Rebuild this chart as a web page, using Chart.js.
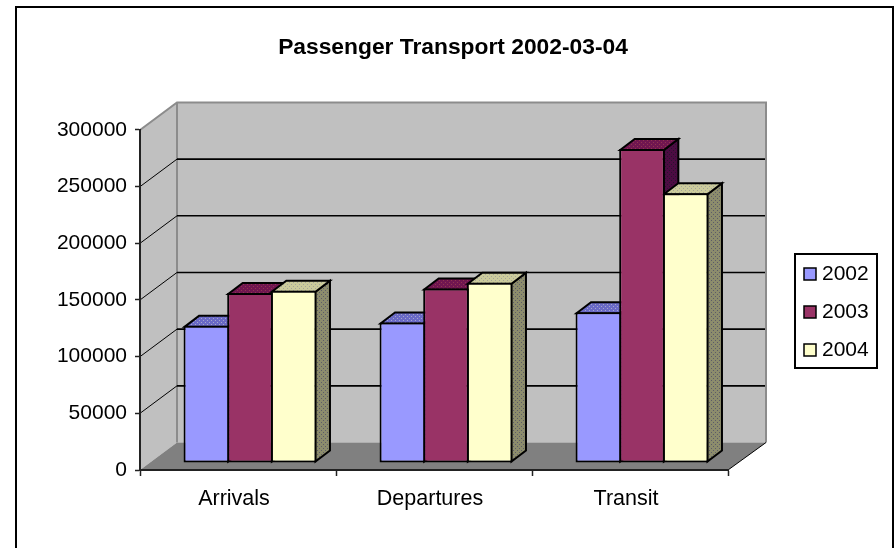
<!DOCTYPE html>
<html>
<head>
<meta charset="utf-8">
<title>Passenger Transport 2002-03-04</title>
<script src="https://cdn.jsdelivr.net/npm/chart.js@4/dist/chart.umd.min.js"></script>
<style>
  html, body { margin: 0; padding: 0; background: #fff; overflow: hidden; }
  canvas { display: block; }
</style>
</head>
<body>
<canvas id="chart" width="895" height="548"></canvas>
<script>
const chartTitle = "Passenger Transport 2002-03-04";
const categories = ["Arrivals", "Departures", "Transit"];
const seriesNames = ["2002", "2003", "2004"];
const values2002 = [121000, 124000, 133000];
const values2003 = [150000, 154000, 277000];
const values2004 = [152000, 159000, 238000];
const yTicks = [0, 50000, 100000, 150000, 200000, 250000, 300000];

const FONT = "'Liberation Sans', Arial, sans-serif";
// 3d look: wall depth, gap in front of the bars, depth of the bars themselves
const WALL_DX = 38, WALL_DY = 27.5;
const BAR_SHIFT_X = 12, BAR_SHIFT_Y = -7;
const BAR_DX = 14.5, BAR_DY = 11;

function dither(base, dot) {
  const tile = document.createElement("canvas");
  tile.width = tile.height = 4;
  const c = tile.getContext("2d");
  c.fillStyle = base;
  c.fillRect(0, 0, 4, 4);
  c.fillStyle = dot;
  c.fillRect(1, 1, 1, 1);
  c.fillRect(3, 3, 1, 1);
  return c.createPattern(tile, "repeat");
}

function poly(ctx, pts, fill, stroke, lw) {
  ctx.beginPath();
  pts.forEach((p, i) => (i ? ctx.lineTo(p[0], p[1]) : ctx.moveTo(p[0], p[1])));
  ctx.closePath();
  if (fill) { ctx.fillStyle = fill; ctx.fill(); }
  if (stroke) { ctx.strokeStyle = stroke; ctx.lineWidth = lw; ctx.lineJoin = "miter"; ctx.stroke(); }
}

const faces = [
  { top: dither("#6a6ac6", "#a6a6cc"), side: dither("#50508c", "#34345c") },
  { top: dither("#701650", "#93364e"), side: dither("#4c0c42", "#28142e") },
  { top: dither("#cbcb9c", "#a4a498"), side: dither("#8c8c6c", "#5c5c68") },
];

const box3d = {
  id: "box3d",
  afterLayout(chart) {
    // title is centred on the frame, not on the plot
    chart.titleBlock.left = 11;
    chart.titleBlock.right = 895;
  },
  beforeDraw(chart) {
    const { ctx, chartArea: a, scales: { y } } = chart;
    const L = a.left, R = a.right, T = y.getPixelForValue(y.max), B = y.getPixelForValue(0);
    const bl = L + WALL_DX - 1, br = R + WALL_DX;
    const tB = T - WALL_DY, bB = B - WALL_DY;
    ctx.save();
    ctx.fillStyle = "#fff";
    ctx.fillRect(0, 0, chart.width, chart.height);
    ctx.strokeStyle = "#000";
    ctx.lineWidth = 2;
    ctx.strokeRect(16, 7, 877, 620);
    // left wall, back wall, floor
    poly(ctx, [[L, T], [bl, tB], [bl, bB], [L, B]], "#c0c0c0");
    ctx.fillStyle = "#c0c0c0";
    ctx.fillRect(bl, tB, br - bl, bB - tB);
    poly(ctx, [[L, B], [R, B], [br, bB], [bl, bB]], "#808080");
    // gray wall edges
    ctx.strokeStyle = "#8c8c8c";
    ctx.lineWidth = 2;
    ctx.beginPath();
    ctx.moveTo(L, T); ctx.lineTo(bl, tB); ctx.lineTo(br, tB); ctx.lineTo(br, bB);
    ctx.moveTo(bl, tB); ctx.lineTo(bl, bB);
    ctx.stroke();
    // gridlines carried across both walls
    ctx.strokeStyle = "#000";
    yTicks.forEach((v) => {
      if (v === 0 || v === y.max) return;
      const py = y.getPixelForValue(v);
      ctx.lineWidth = 1;
      ctx.beginPath(); ctx.moveTo(L, py); ctx.lineTo(bl, py - WALL_DY); ctx.stroke();
      ctx.lineWidth = 1.6;
      ctx.beginPath(); ctx.moveTo(bl, py - WALL_DY); ctx.lineTo(br - 1, py - WALL_DY); ctx.stroke();
    });
    // front edge of the floor on the right
    ctx.lineWidth = 1;
    ctx.beginPath(); ctx.moveTo(R, B); ctx.lineTo(br, bB); ctx.stroke();
    ctx.restore();
  },
  beforeDatasetsDraw(chart) {
    const { ctx } = chart;
    ctx.save();
    ctx.translate(BAR_SHIFT_X, BAR_SHIFT_Y);
    // tops and sides first, left to right, the library paints the fronts over them
    chart.data.datasets.forEach((ds, i) => {
      chart.getDatasetMeta(i).data.forEach((bar) => {
        const x0 = bar.x - bar.width / 2 + 1, x1 = bar.x + bar.width / 2 - 1;
        const top = bar.y + 1, base = bar.base - 1;
        poly(ctx, [[x1, top], [x1 + BAR_DX, top - BAR_DY], [x1 + BAR_DX, base - BAR_DY], [x1, base]], faces[i].side, "#000", 2);
        poly(ctx, [[x0, top], [x0 + BAR_DX, top - BAR_DY], [x1 + BAR_DX, top - BAR_DY], [x1, top]], faces[i].top, "#000", 2);
      });
    });
  },
  afterDatasetsDraw(chart) {
    chart.ctx.restore();
  },
  afterDraw(chart) {
    const { ctx } = chart;
    ctx.save();
    ctx.strokeStyle = "#000";
    ctx.lineWidth = 2;
    ctx.strokeRect(795, 254, 82, 114);
    ctx.font = "21px " + FONT;
    ctx.textBaseline = "middle";
    chart.data.datasets.forEach((ds, i) => {
      const cy = 274 + i * 38;
      ctx.fillStyle = ds.backgroundColor;
      ctx.fillRect(804, cy - 6, 12, 12);
      ctx.lineWidth = 1.5;
      ctx.strokeRect(804, cy - 6, 12, 12);
      ctx.fillStyle = "#000";
      ctx.fillText(ds.label, 822, cy);
    });
    ctx.restore();
  },
};

function barSet(label, data, color) {
  return {
    label, data,
    backgroundColor: color,
    borderColor: "#000",
    borderWidth: 2,
    borderSkipped: false,
    categoryPercentage: 0.668,
    barPercentage: 1.046,
  };
}

new Chart(document.getElementById("chart").getContext("2d"), {
  type: "bar",
  data: {
    labels: categories,
    datasets: [
      barSet(seriesNames[0], values2002, "#9999ff"),
      barSet(seriesNames[1], values2003, "#993366"),
      barSet(seriesNames[2], values2004, "#ffffcc"),
    ],
  },
  plugins: [box3d],
  options: {
    responsive: false,
    animation: false,
    devicePixelRatio: 1,
    layout: { padding: { left: 0, right: 167, top: 0, bottom: 0 } },
    plugins: {
      legend: { display: false },
      tooltip: { enabled: false },
      title: {
        display: true,
        text: chartTitle,
        color: "#000",
        font: { family: FONT, size: 22.8, weight: "bold", lineHeight: 1.2 },
        padding: { top: 34, bottom: 68.6 },
      },
    },
    scales: {
      x: {
        afterFit(scale) { scale.height = 78; },
        grid: { drawOnChartArea: false, offset: true, tickLength: 6, tickColor: "#222", tickWidth: 1.5 },
        border: { color: "#222", width: 2 },
        ticks: { color: "#000", padding: 10, labelOffset: -4, maxRotation: 0, font: { family: FONT, size: 21.5 } },
      },
      y: {
        min: 0,
        max: 300000,
        afterFit(scale) { scale.width = 140; },
        afterBuildTicks(scale) { scale.ticks = yTicks.map((value) => ({ value })); },
        grid: { drawOnChartArea: false, tickLength: 5, tickColor: "#222", tickWidth: 1.5 },
        border: { color: "#222", width: 2 },
        ticks: { color: "#000", padding: 8, callback: (v) => String(v), font: { family: FONT, size: 21 } },
      },
    },
  },
});
</script>
</body>
</html>
